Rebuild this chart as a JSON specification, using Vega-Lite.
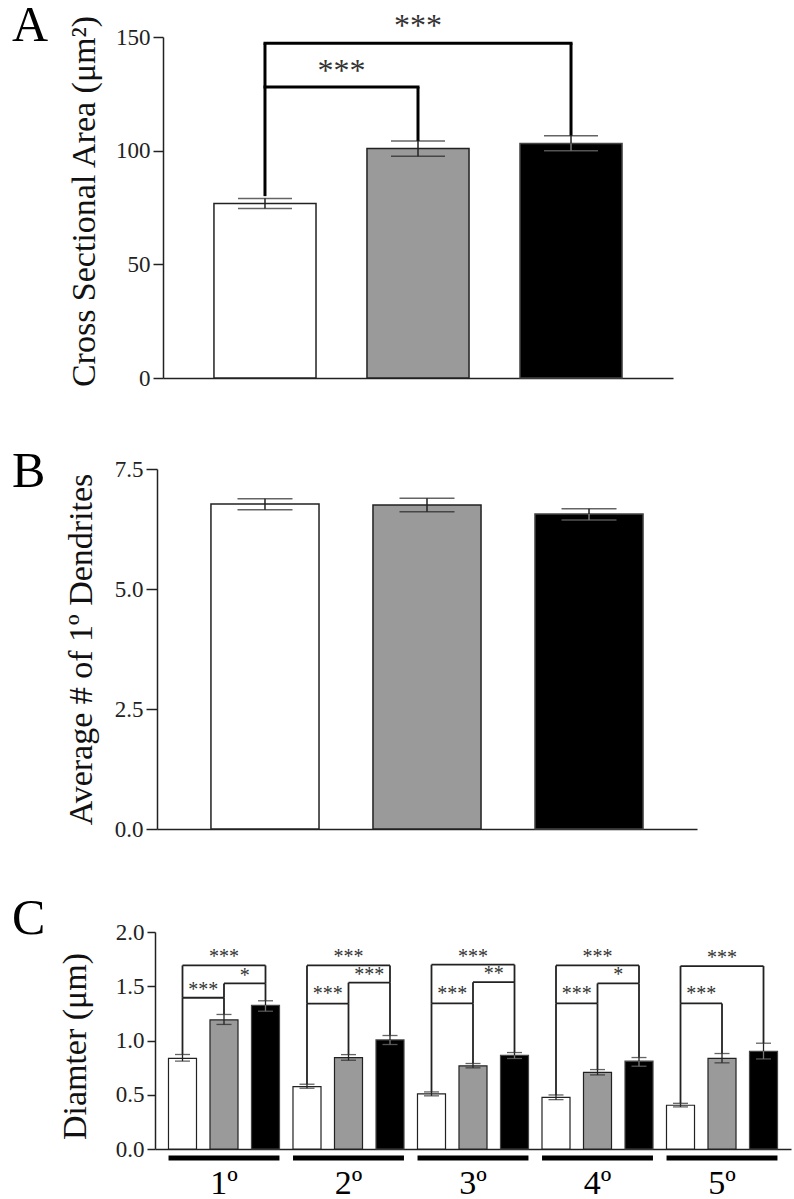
{
  "$schema": "https://vega.github.io/schema/vega-lite/v6.json",
  "padding": {"left": 12, "top": 0, "right": 2, "bottom": 0},
  "background": "white",
  "spacing": 57,
  "config": {
    "view": {"stroke": null},
    "font": "Liberation Serif",
    "axis": {"domainColor": "#222", "domainWidth": 1.5, "tickColor": "#222", "tickWidth": 1.5, "labelFont": "Liberation Serif", "labelColor": "#222", "labelPadding": 3, "titleFont": "Liberation Serif", "titleFontWeight": "normal", "titleColor": "#111", "titleFontSize": 34, "grid": false},
    "title": {"font": "Liberation Serif", "fontWeight": "normal", "fontSize": 50, "color": "#000"}
  },
  "datasets": {
    "barsA": [
      {"cond": "White", "mean": 76.8, "lo": 74.6, "hi": 79.0},
      {"cond": "Gray", "mean": 100.9, "lo": 97.5, "hi": 104.3},
      {"cond": "Black", "mean": 103.2, "lo": 100.0, "hi": 106.6}
    ],
    "sigA": [
      {"left": "White", "right": "Gray", "mid": "White", "span": 1, "h": 128, "lowL": 80, "lowR": 104.3, "label": "***", "ty": 135},
      {"left": "White", "right": "Black", "mid": "Gray", "span": 2, "h": 147.2, "lowL": 128, "lowR": 106.6, "label": "***", "ty": 155}
    ],
    "barsB": [
      {"cond": "White", "mean": 6.77, "lo": 6.65, "hi": 6.88},
      {"cond": "Gray", "mean": 6.75, "lo": 6.61, "hi": 6.89},
      {"cond": "Black", "mean": 6.56, "lo": 6.44, "hi": 6.67}
    ],
    "barsC": [
      {"key": "1º|White", "cond": "White", "mean": 0.835, "lo": 0.81, "hi": 0.871},
      {"key": "1º|Gray", "cond": "Gray", "mean": 1.19, "lo": 1.148, "hi": 1.24},
      {"key": "1º|Black", "cond": "Black", "mean": 1.325, "lo": 1.27, "hi": 1.366},
      {"key": "2º|White", "cond": "White", "mean": 0.575, "lo": 0.56, "hi": 0.597},
      {"key": "2º|Gray", "cond": "Gray", "mean": 0.843, "lo": 0.818, "hi": 0.87},
      {"key": "2º|Black", "cond": "Black", "mean": 1.005, "lo": 0.963, "hi": 1.046},
      {"key": "3º|White", "cond": "White", "mean": 0.508, "lo": 0.49, "hi": 0.526},
      {"key": "3º|Gray", "cond": "Gray", "mean": 0.766, "lo": 0.748, "hi": 0.788},
      {"key": "3º|Black", "cond": "Black", "mean": 0.862, "lo": 0.834, "hi": 0.889},
      {"key": "4º|White", "cond": "White", "mean": 0.475, "lo": 0.455, "hi": 0.498},
      {"key": "4º|Gray", "cond": "Gray", "mean": 0.707, "lo": 0.683, "hi": 0.732},
      {"key": "4º|Black", "cond": "Black", "mean": 0.809, "lo": 0.763, "hi": 0.843},
      {"key": "5º|White", "cond": "White", "mean": 0.403, "lo": 0.388, "hi": 0.421},
      {"key": "5º|Gray", "cond": "Gray", "mean": 0.835, "lo": 0.794, "hi": 0.88},
      {"key": "5º|Black", "cond": "Black", "mean": 0.901, "lo": 0.83, "hi": 0.975}
    ],
    "sigC": [
      {"left": "1º|White", "right": "1º|Gray", "mid": "1º|White", "span": 1, "h": 1.394, "lowL": 0.871, "lowR": 1.24, "label": "***", "ty": 1.47},
      {"left": "1º|Gray", "right": "1º|Black", "mid": "1º|Gray", "span": 1, "h": 1.526, "lowL": 1.394, "lowR": 1.366, "label": "*", "ty": 1.59},
      {"left": "1º|White", "right": "1º|Black", "mid": "1º|Gray", "span": 2, "h": 1.692, "lowL": 1.394, "lowR": 1.526, "label": "***", "ty": 1.77},
      {"left": "2º|White", "right": "2º|Gray", "mid": "2º|White", "span": 1, "h": 1.339, "lowL": 0.597, "lowR": 0.87, "label": "***", "ty": 1.425},
      {"left": "2º|Gray", "right": "2º|Black", "mid": "2º|Gray", "span": 1, "h": 1.533, "lowL": 1.339, "lowR": 1.046, "label": "***", "ty": 1.6},
      {"left": "2º|White", "right": "2º|Black", "mid": "2º|Gray", "span": 2, "h": 1.692, "lowL": 1.339, "lowR": 1.533, "label": "***", "ty": 1.77},
      {"left": "3º|White", "right": "3º|Gray", "mid": "3º|White", "span": 1, "h": 1.342, "lowL": 0.526, "lowR": 0.788, "label": "***", "ty": 1.425},
      {"left": "3º|Gray", "right": "3º|Black", "mid": "3º|Gray", "span": 1, "h": 1.538, "lowL": 1.342, "lowR": 0.889, "label": "**", "ty": 1.61},
      {"left": "3º|White", "right": "3º|Black", "mid": "3º|Gray", "span": 2, "h": 1.699, "lowL": 1.342, "lowR": 1.538, "label": "***", "ty": 1.77},
      {"left": "4º|White", "right": "4º|Gray", "mid": "4º|White", "span": 1, "h": 1.342, "lowL": 0.498, "lowR": 0.732, "label": "***", "ty": 1.425},
      {"left": "4º|Gray", "right": "4º|Black", "mid": "4º|Gray", "span": 1, "h": 1.526, "lowL": 1.342, "lowR": 0.843, "label": "*", "ty": 1.6},
      {"left": "4º|White", "right": "4º|Black", "mid": "4º|Gray", "span": 2, "h": 1.692, "lowL": 1.342, "lowR": 1.526, "label": "***", "ty": 1.77},
      {"left": "5º|White", "right": "5º|Gray", "mid": "5º|White", "span": 1, "h": 1.342, "lowL": 0.421, "lowR": 0.88, "label": "***", "ty": 1.425},
      {"left": "5º|White", "right": "5º|Black", "mid": "5º|Gray", "span": 2, "h": 1.686, "lowL": 1.342, "lowR": 0.975, "label": "***", "ty": 1.757}
    ],
    "groupsC": [
      {"group": "1º", "mid": "1º|Gray"},
      {"group": "2º", "mid": "2º|Gray"},
      {"group": "3º", "mid": "3º|Gray"},
      {"group": "4º", "mid": "4º|Gray"},
      {"group": "5º", "mid": "5º|Gray"}
    ]
  },
  "vconcat": [
    {
      "width": 518,
      "height": 341,
      "title": {"text": "A", "anchor": "start", "frame": "group", "dx": -143, "dy": 85, "baseline": "alphabetic"},
      "layer": [
        {
          "data": {"name": "barsA"},
          "mark": {"type": "bar", "strokeWidth": 1.5},
          "encoding": {
            "x": {"field": "cond", "type": "nominal", "scale": {"domain": ["White", "Gray", "Black"], "range": [8, 518], "paddingInner": 0.333, "paddingOuter": 0.333}, "axis": {"labels": false, "ticks": false, "title": null}},
            "y": {"field": "mean", "type": "quantitative", "scale": {"domain": [0, 150], "nice": false}, "axis": {"values": [0, 50, 100, 150], "title": "Cross Sectional Area (μm²)", "offset": -8, "tickSize": 10, "labelFontSize": 23, "titlePadding": 14, "titleY": 164}},
            "fill": {"field": "cond", "type": "nominal", "scale": {"domain": ["White", "Gray", "Black"], "range": ["#ffffff", "#9a9a9a", "#000000"]}, "legend": null},
            "stroke": {"field": "cond", "type": "nominal", "scale": {"domain": ["White", "Gray", "Black"], "range": ["#222222", "#222222", "#444444"]}, "legend": null}
          }
        },
        {
          "data": {"name": "barsA"},
          "mark": {"type": "rule", "strokeWidth": 1.5, "color": "#222"},
          "encoding": {"x": {"field": "cond", "type": "nominal"}, "y": {"field": "mean", "type": "quantitative"}, "y2": {"field": "hi"}}
        },
        {
          "data": {"name": "barsA"},
          "mark": {"type": "rule", "strokeWidth": 1.5},
          "encoding": {"x": {"field": "cond", "type": "nominal"}, "y": {"field": "lo", "type": "quantitative"}, "y2": {"field": "mean"},
            "color": {"field": "cond", "type": "nominal", "scale": {"domain": ["White", "Gray", "Black"], "range": ["#222222", "#222222", "#777777"]}, "legend": null}}
        },
        {
          "data": {"name": "barsA"},
          "mark": {"type": "tick", "size": 54, "thickness": 1.5, "color": "#222"},
          "encoding": {"x": {"field": "cond", "type": "nominal"}, "y": {"field": "hi", "type": "quantitative"}}
        },
        {
          "data": {"name": "barsA"},
          "mark": {"type": "tick", "size": 54, "thickness": 1.5},
          "encoding": {"x": {"field": "cond", "type": "nominal"}, "y": {"field": "lo", "type": "quantitative"},
            "color": {"field": "cond", "type": "nominal", "legend": null}}
        },
        {
          "data": {"name": "sigA"},
          "mark": {"type": "rule", "strokeWidth": 3, "color": "#000", "strokeCap": "square"},
          "encoding": {"x": {"field": "left", "type": "nominal"}, "x2": {"field": "right"}, "y": {"field": "h", "type": "quantitative"}}
        },
        {
          "data": {"name": "sigA"},
          "mark": {"type": "rule", "strokeWidth": 3, "color": "#000"},
          "encoding": {"x": {"field": "left", "type": "nominal"}, "y": {"field": "h", "type": "quantitative"}, "y2": {"field": "lowL"}}
        },
        {
          "data": {"name": "sigA"},
          "mark": {"type": "rule", "strokeWidth": 3, "color": "#000"},
          "encoding": {"x": {"field": "right", "type": "nominal"}, "y": {"field": "h", "type": "quantitative"}, "y2": {"field": "lowR"}}
        },
        {
          "data": {"name": "sigA"},
          "transform": [{"filter": "datum.span == 1"}],
          "mark": {"type": "text", "fontSize": 32, "baseline": "middle", "color": "#333", "font": "Liberation Serif"},
          "encoding": {"x": {"field": "mid", "type": "nominal", "bandPosition": 1.25}, "y": {"field": "ty", "type": "quantitative"}, "text": {"field": "label"}}
        },
        {
          "data": {"name": "sigA"},
          "transform": [{"filter": "datum.span == 2"}],
          "mark": {"type": "text", "fontSize": 32, "baseline": "middle", "color": "#333", "font": "Liberation Serif"},
          "encoding": {"x": {"field": "mid", "type": "nominal"}, "y": {"field": "ty", "type": "quantitative"}, "text": {"field": "label"}}
        }
      ]
    },
    {
      "spacing": 53,
      "vconcat": [
    {
      "width": 542,
      "height": 360,
      "title": {"text": "B", "anchor": "start", "frame": "group", "dx": -143, "dy": 83, "baseline": "alphabetic"},
      "layer": [
        {
          "data": {"name": "barsB"},
          "mark": {"type": "bar", "strokeWidth": 1.5},
          "encoding": {
            "x": {"field": "cond", "type": "nominal", "scale": {"domain": ["White", "Gray", "Black"], "range": [2, 542], "paddingInner": 0.333, "paddingOuter": 0.333}, "axis": {"labels": false, "ticks": false, "title": null}},
            "y": {"field": "mean", "type": "quantitative", "scale": {"domain": [0, 7.5], "nice": false}, "axis": {"values": [0, 2.5, 5, 7.5], "format": ".1f", "title": "Average # of 1º Dendrites", "offset": -2, "tickSize": 11, "labelFontSize": 23, "titlePadding": 16}},
            "fill": {"field": "cond", "type": "nominal", "scale": {"domain": ["White", "Gray", "Black"], "range": ["#ffffff", "#9a9a9a", "#000000"]}, "legend": null},
            "stroke": {"field": "cond", "type": "nominal", "scale": {"domain": ["White", "Gray", "Black"], "range": ["#222222", "#222222", "#444444"]}, "legend": null}
          }
        },
        {
          "data": {"name": "barsB"},
          "mark": {"type": "rule", "strokeWidth": 1.5, "color": "#222"},
          "encoding": {"x": {"field": "cond", "type": "nominal"}, "y": {"field": "mean", "type": "quantitative"}, "y2": {"field": "hi"}}
        },
        {
          "data": {"name": "barsB"},
          "mark": {"type": "rule", "strokeWidth": 1.5},
          "encoding": {"x": {"field": "cond", "type": "nominal"}, "y": {"field": "lo", "type": "quantitative"}, "y2": {"field": "mean"},
            "color": {"field": "cond", "type": "nominal", "scale": {"domain": ["White", "Gray", "Black"], "range": ["#222222", "#222222", "#777777"]}, "legend": null}}
        },
        {
          "data": {"name": "barsB"},
          "mark": {"type": "tick", "size": 55, "thickness": 1.5, "color": "#222"},
          "encoding": {"x": {"field": "cond", "type": "nominal"}, "y": {"field": "hi", "type": "quantitative"}}
        },
        {
          "data": {"name": "barsB"},
          "mark": {"type": "tick", "size": 55, "thickness": 1.5},
          "encoding": {"x": {"field": "cond", "type": "nominal"}, "y": {"field": "lo", "type": "quantitative"},
            "color": {"field": "cond", "type": "nominal", "legend": null}}
        }
      ]
    },
    {
      "width": 636,
      "height": 217,
      "title": {"text": "C", "anchor": "start", "frame": "group", "dx": -143, "dy": 67, "baseline": "alphabetic"},
      "layer": [
        {
          "data": {"name": "barsC"},
          "mark": {"type": "bar", "strokeWidth": 1.2},
          "encoding": {
            "x": {"field": "key", "type": "nominal", "scale": {"domain": ["1º|White", "1º|Gray", "1º|Black", "2º|White", "2º|Gray", "2º|Black", "3º|White", "3º|Gray", "3º|Black", "4º|White", "4º|Gray", "4º|Black", "5º|White", "5º|Gray", "5º|Black"], "paddingInner": 0.325, "paddingOuter": 0.325}, "axis": {"labels": false, "ticks": false, "title": null}},
            "y": {"field": "mean", "type": "quantitative", "scale": {"domain": [0, 2], "nice": false}, "axis": {"values": [0, 0.5, 1, 1.5, 2], "format": ".1f", "title": "Diamter (μm)", "tickSize": 8, "labelFontSize": 23, "titlePadding": 23, "titleY": 114}},
            "fill": {"field": "cond", "type": "nominal", "scale": {"domain": ["White", "Gray", "Black"], "range": ["#ffffff", "#9a9a9a", "#000000"]}, "legend": null},
            "stroke": {"field": "cond", "type": "nominal", "scale": {"domain": ["White", "Gray", "Black"], "range": ["#333333", "#555555", "#333333"]}, "legend": null}
          }
        },
        {
          "data": {"name": "barsC"},
          "mark": {"type": "rule", "strokeWidth": 1.3, "color": "#222"},
          "encoding": {"x": {"field": "key", "type": "nominal"}, "y": {"field": "mean", "type": "quantitative"}, "y2": {"field": "hi"}}
        },
        {
          "data": {"name": "barsC"},
          "mark": {"type": "rule", "strokeWidth": 1.3},
          "encoding": {"x": {"field": "key", "type": "nominal"}, "y": {"field": "lo", "type": "quantitative"}, "y2": {"field": "mean"},
            "color": {"field": "cond", "type": "nominal", "scale": {"domain": ["White", "Gray", "Black"], "range": ["#222222", "#222222", "#666666"]}, "legend": null}}
        },
        {
          "data": {"name": "barsC"},
          "mark": {"type": "tick", "size": 15, "thickness": 1.3, "color": "#222"},
          "encoding": {"x": {"field": "key", "type": "nominal"}, "y": {"field": "hi", "type": "quantitative"}}
        },
        {
          "data": {"name": "barsC"},
          "mark": {"type": "tick", "size": 15, "thickness": 1.3},
          "encoding": {"x": {"field": "key", "type": "nominal"}, "y": {"field": "lo", "type": "quantitative"},
            "color": {"field": "cond", "type": "nominal", "legend": null}}
        },
        {
          "data": {"name": "sigC"},
          "mark": {"type": "rule", "strokeWidth": 1.8, "color": "#222"},
          "encoding": {"x": {"field": "left", "type": "nominal"}, "x2": {"field": "right"}, "y": {"field": "h", "type": "quantitative"}}
        },
        {
          "data": {"name": "sigC"},
          "mark": {"type": "rule", "strokeWidth": 1.8, "color": "#222"},
          "encoding": {"x": {"field": "left", "type": "nominal"}, "y": {"field": "h", "type": "quantitative"}, "y2": {"field": "lowL"}}
        },
        {
          "data": {"name": "sigC"},
          "mark": {"type": "rule", "strokeWidth": 1.8, "color": "#222"},
          "encoding": {"x": {"field": "right", "type": "nominal"}, "y": {"field": "h", "type": "quantitative"}, "y2": {"field": "lowR"}}
        },
        {
          "data": {"name": "sigC"},
          "transform": [{"filter": "datum.span == 1"}],
          "mark": {"type": "text", "fontSize": 20, "baseline": "middle", "color": "#333", "font": "Liberation Serif"},
          "encoding": {"x": {"field": "mid", "type": "nominal", "bandPosition": 1.241}, "y": {"field": "ty", "type": "quantitative"}, "text": {"field": "label"}}
        },
        {
          "data": {"name": "sigC"},
          "transform": [{"filter": "datum.span == 2"}],
          "mark": {"type": "text", "fontSize": 20, "baseline": "middle", "color": "#333", "font": "Liberation Serif"},
          "encoding": {"x": {"field": "mid", "type": "nominal"}, "y": {"field": "ty", "type": "quantitative"}, "text": {"field": "label"}}
        },
        {
          "data": {"name": "groupsC"},
          "mark": {"type": "bar", "width": {"band": 3.96}, "color": "#000"},
          "encoding": {"x": {"field": "mid", "type": "nominal"}, "y": {"datum": -0.059}, "y2": {"datum": -0.105}}
        },
        {
          "data": {"name": "groupsC"},
          "mark": {"type": "text", "fontSize": 34, "baseline": "alphabetic", "color": "#000", "font": "Liberation Serif"},
          "encoding": {"x": {"field": "mid", "type": "nominal"}, "y": {"datum": -0.413}, "text": {"field": "group"}}
        }
      ]
    }
      ]
    }
  ]
}
